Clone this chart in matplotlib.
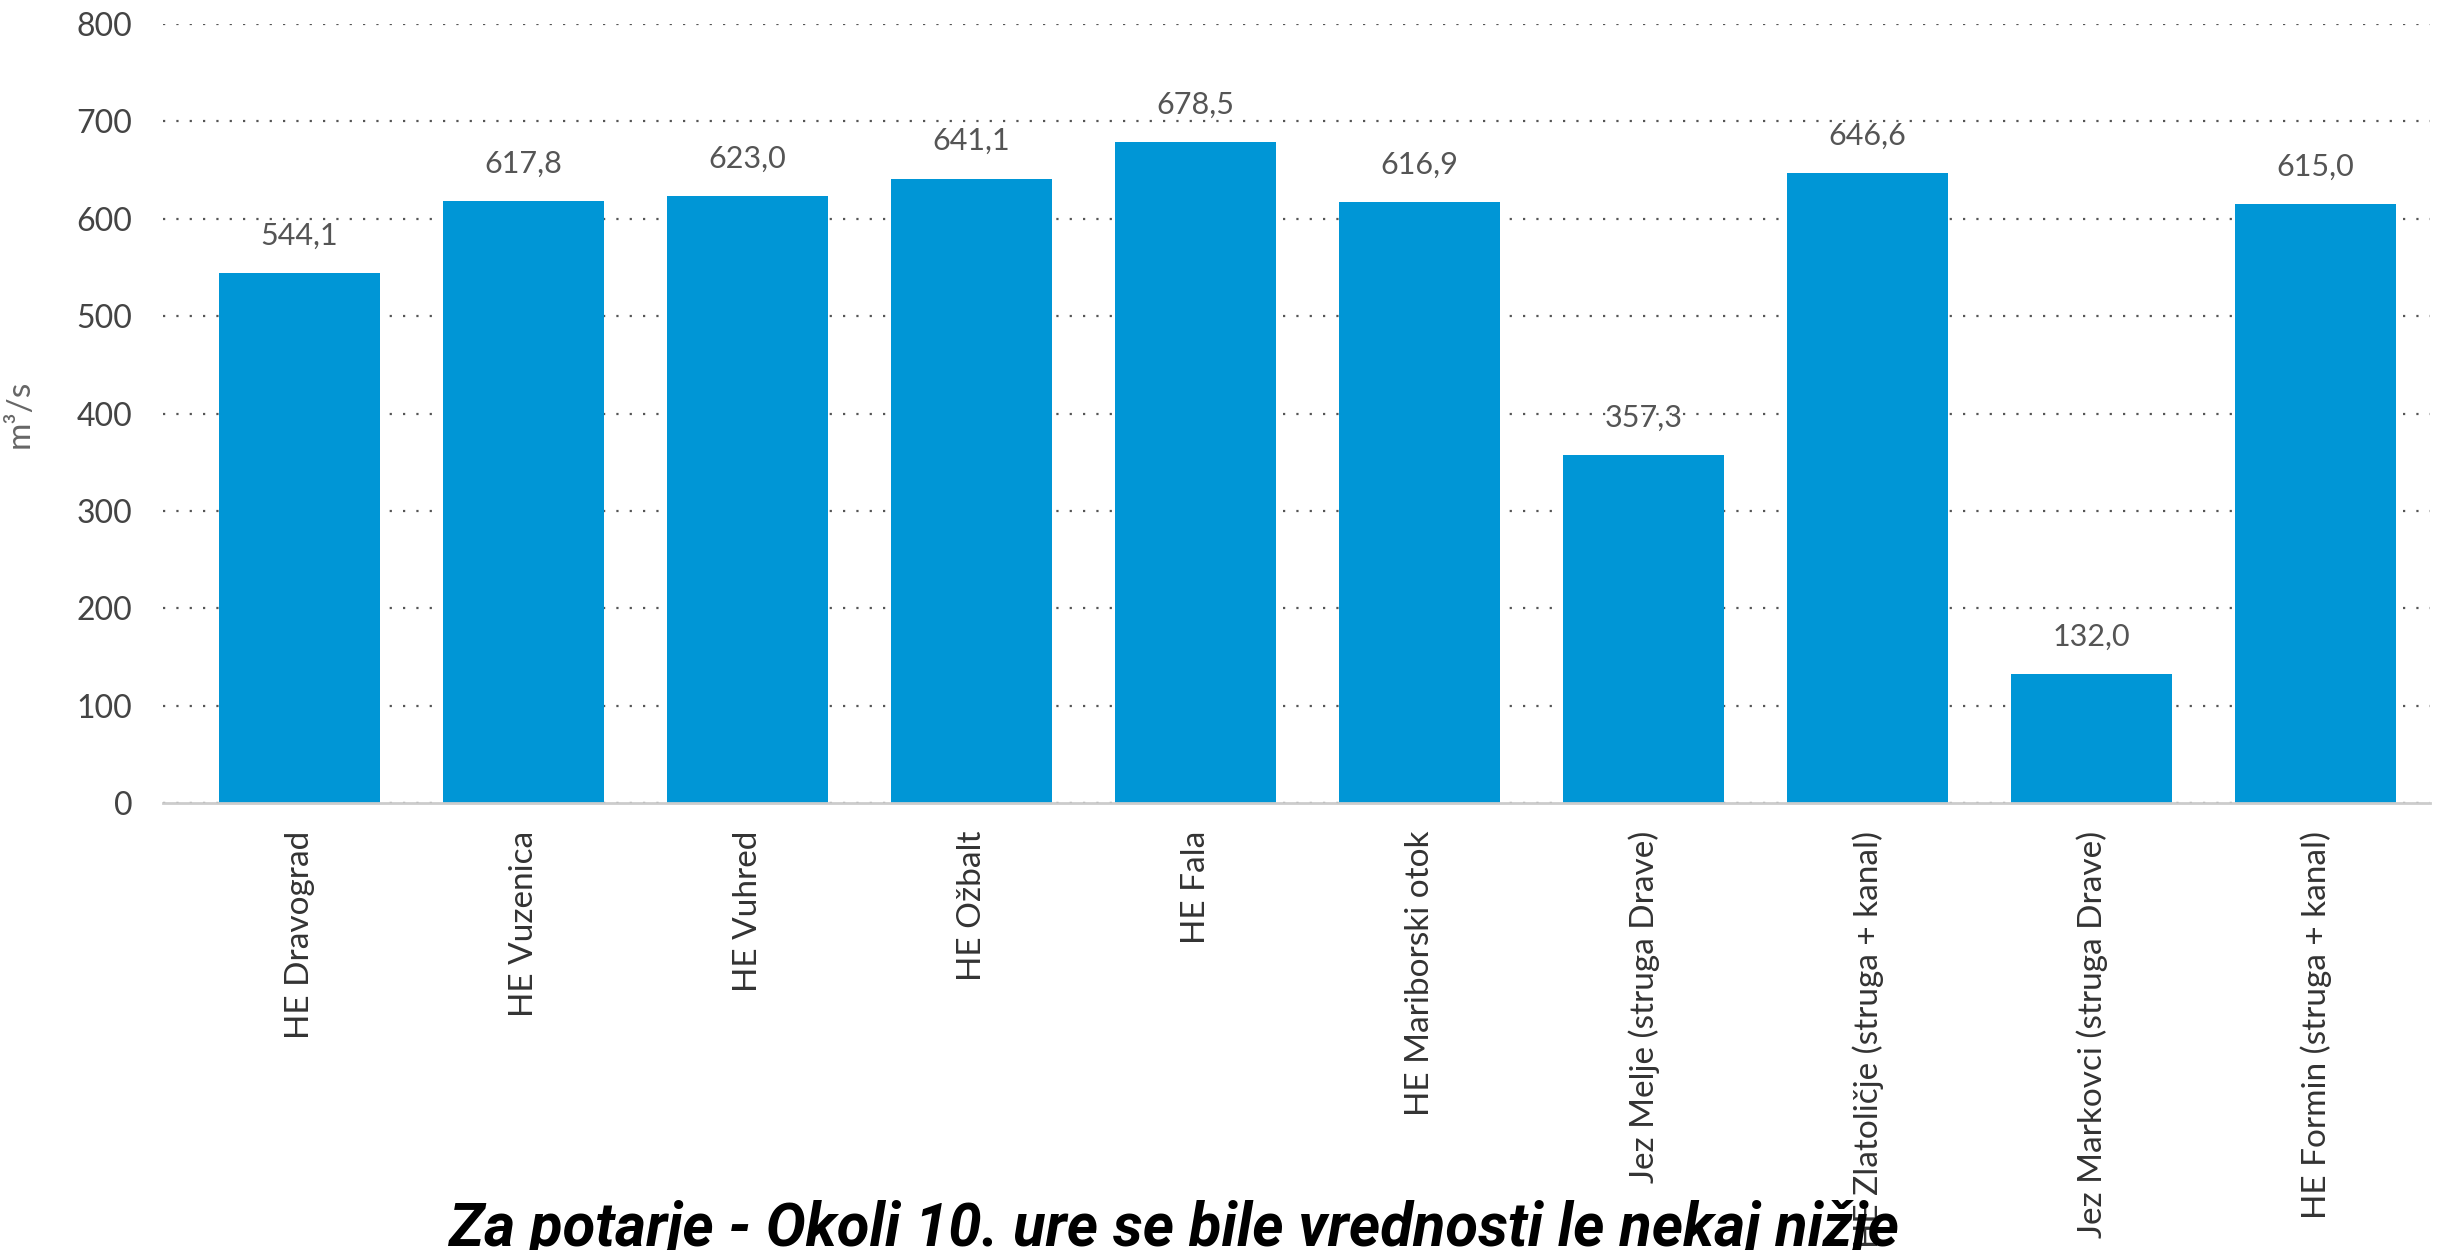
import matplotlib.pyplot as plt
import numpy as np

# data
postaje = ["HE Dravograd", "HE Vuzenica", "HE Vuhred", "HE Ožbalt", "HE Fala",
           "HE Mariborski otok", "Jez Melje (struga Drave)",
           "HE Zlatoličje (struga + kanal)", "Jez Markovci (struga Drave)",
           "HE Formin (struga + kanal)"]
pretok = [544.1, 617.8, 623.0, 641.1, 678.5, 616.9, 357.3, 646.6, 132.0, 615.0]
y_ticks = [0, 100, 200, 300, 400, 500, 600, 700, 800]
opomba = "Za potarje - Okoli 10. ure se bile vrednosti le nekaj nižje"

plt.rcParams["font.family"] = ["Lato", "DejaVu Sans"]

fig = plt.figure(figsize=(24.4, 12.5), dpi=100)
ax = fig.add_axes([0.0668, 0.3576, 0.9291, 0.6232])

x = np.arange(len(postaje))
bars = ax.bar(x, pretok, width=0.72, color="#0096D6", zorder=3)

labels = [f"{v:.1f}".replace(".", ",") for v in pretok]
ax.bar_label(bars, labels=labels, padding=17, fontsize=22, color="#555555")

ax.set_xlim(-0.61, 9.51)
ax.set_ylim(0, 800)
ax.set_yticks(y_ticks)
ax.set_xticks(x)
ax.set_xticklabels(postaje, rotation=90, va="top", ha="center")
ax.tick_params(axis="x", length=0, pad=20, labelsize=24, labelcolor="#333333")
ax.tick_params(axis="y", length=0, pad=22, labelsize=23, labelcolor="#444444")

ax.grid(axis="y", linestyle=(0, (1, 5)), color="#555555", linewidth=1.6, zorder=0)
for s in ["top", "right", "left"]:
    ax.spines[s].set_visible(False)
ax.spines["bottom"].set_color("#cccccc")
ax.spines["bottom"].set_linewidth(2)
ax.spines["bottom"].set_zorder(4)

ax.set_ylabel("m³/s", fontsize=24, color="#666666", labelpad=30)

# opomba na dnu (v izvirniku odrezana)
fig.text(0.481, 0.003, opomba, ha="center", va="baseline", fontsize=43,
         style="italic", fontweight="bold", color="black",
         family=["Roboto", "DejaVu Sans"])

fig.savefig("out.png", dpi=100)
